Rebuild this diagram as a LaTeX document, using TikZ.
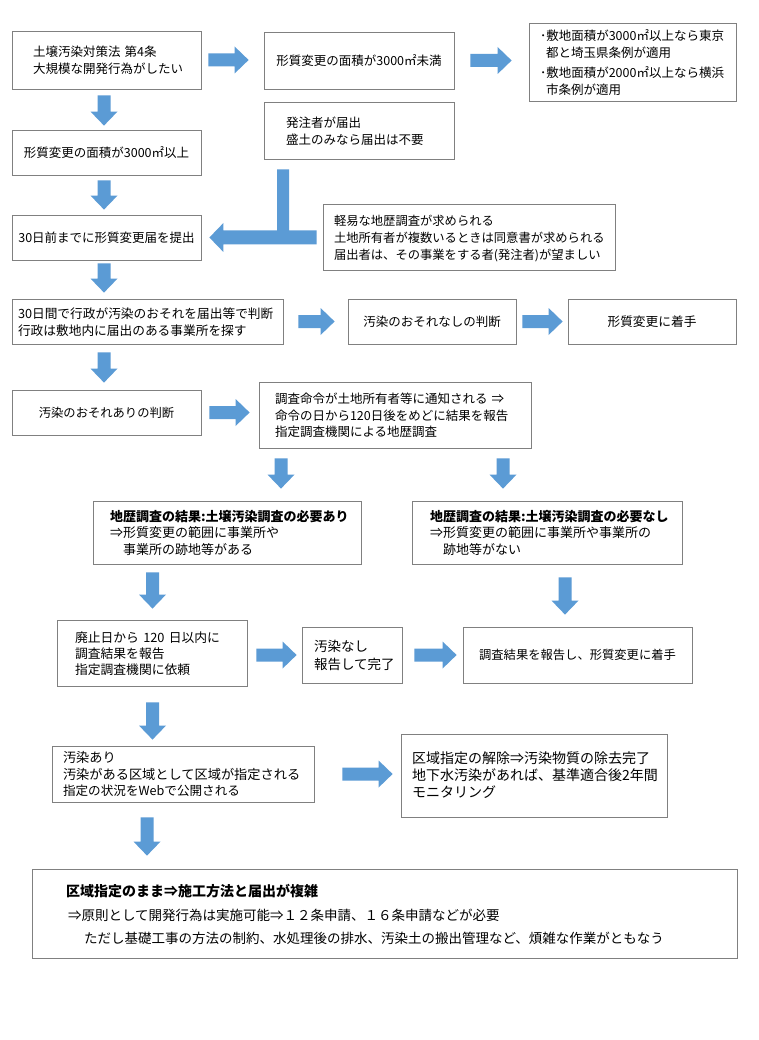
\documentclass[tikz,border=0pt]{standalone}
\usepackage{fontspec}
\setmainfont{Noto Sans CJK JP}
\usetikzlibrary{calc}
\definecolor{arrowblue}{RGB}{91,155,213}
\definecolor{boxgray}{RGB}{128,128,128}
\newcommand\fsz[2]{\fontsize{#1pt}{#2pt}\selectfont}
% left-aligned block of lines, set 2pt lower than the geometric centre
\newcommand\tb[1]{\raisebox{0pt}[\dimexpr\height+4pt\relax][\depth]{\begin{tabular}{@{}l@{}}#1\end{tabular}}}
\newcommand\arShaft{6.5pt}
\newcommand\arHead{13.5pt}
\newcommand\arLen{14pt}
% right-pointing block arrow: #1 start (its y is used), #2 tip (its x is used)
\newcommand\rarr[2]{\fill[blk] let \p1=(#1), \p2=(#2) in
  (\x1,\y1+\arShaft) -- (\x2-\arLen,\y1+\arShaft) -- (\x2-\arLen,\y1+\arHead) -- (\x2,\y1)
  -- (\x2-\arLen,\y1-\arHead) -- (\x2-\arLen,\y1-\arShaft) -- (\x1,\y1-\arShaft) -- cycle;}
% down-pointing block arrow: #1 start (its x is used), #2 tip (its y is used)
\newcommand\darr[2]{\fill[blk] let \p1=(#1), \p2=(#2) in
  (\x1-\arShaft,\y1) -- (\x1+\arShaft,\y1) -- (\x1+\arShaft,\y2+\arLen) -- (\x1+\arHead,\y2+\arLen)
  -- (\x1,\y2) -- (\x1-\arHead,\y2+\arLen) -- (\x1-\arShaft,\y2+\arLen) -- cycle;}
\tikzset{
  box/.style={draw=boxgray, line width=0.8pt, fill=white, inner sep=0pt, align=left},
  cbox/.style={box, align=center},
  blk/.style={fill=arrowblue, draw=none}
}
\begin{document}
\begin{tikzpicture}[x=1pt,y=-1pt]
\fill[white] (0,0) rectangle (758,1040);
\useasboundingbox (0,0) rectangle (758,1040);

% ---------- row 1 ----------
\node[box, text width=189pt, minimum height=58pt, font=\fsz{12.5}{17}] (A) at (106.5,60)
  {\noindent\hspace*{21pt}\tb{土壌汚染対策法 第4条\\大規模な開発行為がしたい}};
\node[cbox, minimum width=190pt, minimum height=57pt, font=\fsz{12.5}{17}] (B) at (359,60.5)
  {形質変更の面積が3000㎡未満};
\node[box, text width=207pt, minimum height=78pt, font=\fsz{12.5}{17}] (C) at (632.5,62)
  {\noindent\hspace*{11pt}\tb{･敷地面積が3000㎡以上なら東京\\\hspace*{6pt}都と埼玉県条例が適用\\[3pt]･敷地面積が2000㎡以上なら横浜\\\hspace*{6pt}市条例が適用}};
\node[box, text width=190pt, minimum height=57pt, font=\fsz{12.5}{16.5}] (D) at (359,130.5)
  {\noindent\hspace*{22pt}\tb{発注者が届出\\盛土のみなら届出は不要}};

\node[cbox, minimum width=189pt, minimum height=45pt, font=\fsz{12.5}{17}] (E) at (106.5,152.5)
  {形質変更の面積が3000㎡以上};
\node[cbox, minimum width=189pt, minimum height=45pt, font=\fsz{12.5}{17}] (F) at (106.5,237.5)
  {30日前までに形質変更届を提出};
\node[box, text width=292pt, minimum height=66pt, font=\fsz{12.3}{17}] (G) at (469,237)
  {\noindent\hspace*{11pt}\tb{軽易な地歴調査が求められる\\土地所有者が複数いるときは同意書が求められる\\届出者は、その事業をする者(発注者)が望ましい}};

% ---------- row H ----------
\node[box, text width=271pt, minimum height=45pt, font=\fsz{12.7}{17}] (H) at (147.5,321.5)
  {\noindent\hspace*{6pt}\tb{30日間で行政が汚染のおそれを届出等で判断\\行政は敷地内に届出のある事業所を探す}};
\node[cbox, minimum width=168pt, minimum height=45pt, font=\fsz{12.5}{17}] (I) at (432,321.5)
  {汚染のおそれなしの判断};
\node[cbox, minimum width=168pt, minimum height=45pt, font=\fsz{12.7}{17}] (J) at (652,321.5)
  {形質変更に着手};

% ---------- row K ----------
\node[cbox, minimum width=189pt, minimum height=45pt, font=\fsz{12.3}{17}] (K) at (106.5,412.5)
  {汚染のおそれありの判断};
\node[box, text width=272pt, minimum height=66pt, font=\fsz{12.5}{16.5}] (L) at (395,415)
  {\noindent\hspace*{16pt}\tb{調査命令が土地所有者等に通知される ⇒\\命令の日から120日後をめどに結果を報告\\指定調査機関による地歴調査}};

% ---------- row M/N ----------
\node[box, text width=268pt, minimum height=63pt, font=\fsz{13}{16.5}] (M) at (227,532.5)
  {\noindent\hspace*{17pt}\tb{{\bfseries 地歴調査の結果:土壌汚染調査の必要あり}\\⇒形質変更の範囲に事業所や\\\hspace*{13pt}事業所の跡地等がある}};
\node[box, text width=270pt, minimum height=63pt, font=\fsz{13}{16.5}] (N) at (547,532.5)
  {\noindent\hspace*{18pt}\tb{{\bfseries 地歴調査の結果:土壌汚染調査の必要なし}\\⇒形質変更の範囲に事業所や事業所の\\\hspace*{13pt}跡地等がない}};

% ---------- row O/P/Q ----------
\node[box, text width=190pt, minimum height=66pt, font=\fsz{12.8}{16}] (O) at (152,653)
  {\noindent\hspace*{18pt}\tb{廃止日から 120 日以内に\\調査結果を報告\\指定調査機関に依頼}};
\node[box, text width=100pt, minimum height=56pt, font=\fsz{13.5}{18}] (P) at (352,655)
  {\noindent\hspace*{12pt}\tb{汚染なし\\報告して完了}};
\node[cbox, minimum width=229pt, minimum height=56pt, font=\fsz{12.3}{17}] (Q) at (577.5,655)
  {調査結果を報告し、形質変更に着手};

% ---------- row R/S ----------
\node[box, text width=262pt, minimum height=56pt, font=\fsz{13.2}{16.5}] (R) at (183,774)
  {\noindent\hspace*{11pt}\tb{汚染あり\\汚染がある区域として区域が指定される\\{\fsz{12.6}{16.5}指定の状況をWebで公開される}}};
\node[box, text width=266pt, minimum height=83pt, font=\fsz{14}{17}] (S) at (534,775.5)
  {\noindent\hspace*{11pt}\tb{区域指定の解除⇒汚染物質の除去完了\\地下水汚染があれば、基準適合後2年間\\モニタリング}};

% ---------- bottom ----------
\node[box, text width=705pt, minimum height=89pt, font=\fsz{13.5}{23.5}] (T) at (384.5,913.5)
  {\noindent\hspace*{34pt}\tb{{\fsz{14}{23.5}\bfseries 区域指定のまま⇒施工方法と届出が複雑}\\\hspace*{2pt}⇒原則として開発行為は実施可能⇒１２条申請、１６条申請などが必要\\\hspace*{18pt}ただし基礎工事の方法の制約、水処理後の排水、汚染土の搬出管理など、煩雑な作業がともなう}};

% ---------- block arrows ----------
\rarr{$(A.east)+(7pt,0)$}{$(B.west)+(-15pt,0)$}
\rarr{$(B.east)+(16pt,0)$}{$(C.west)+(-17pt,0)$}
\darr{$(A.south)+(-2.5pt,-6pt)$}{$(E.north)+(0,4pt)$}
\darr{$(E.south)+(-2.5pt,-5pt)$}{$(F.north)+(0,5pt)$}
% L-shaped arrow from D to F
\fill[blk] let \p1=($(D.south)+(-76pt,-10pt)$), \p2=($(F.east)+(8pt,0)$), \p3=($(G.west)+(-6pt,0)$) in
  (\x1-6pt,\y1) -- (\x1+6pt,\y1) -- (\x1+6pt,\y2+7pt) -- (\x3,\y2+7pt) -- (\x3,\y2-7pt)
  -- (\x2+14pt,\y2-7pt) -- (\x2+14pt,\y2-14.5pt) -- (\x2,\y2) -- (\x2+14pt,\y2+14.5pt)
  -- (\x2+14pt,\y2+7pt) -- (\x1-6pt,\y2+7pt) -- cycle;
\darr{$(F.south)+(-2.5pt,-3pt)$}{$(H.north)+(0,6pt)$}
\rarr{$(H.east)+(15pt,0)$}{$(I.west)+(-13pt,0)$}
\rarr{$(I.east)+(6pt,0)$}{$(J.west)+(-5pt,0)$}
\darr{$(H.south -| K.north)+(-2.5pt,-8pt)$}{$(K.north)+(0,7pt)$}
\rarr{$(K.east)+(8pt,0)$}{$(L.west)+(-9pt,0)$}
\darr{$(L.south -| M.north)+(54pt,-10pt)$}{$(M.north)+(0,12pt)$}
\darr{$(L.south -| N.north)+(-44pt,-10pt)$}{$(N.north)+(0,12pt)$}
\darr{$(M.south -| O.north)+(0.5pt,-8pt)$}{$(O.north)+(0,11pt)$}
\darr{$(N.south)+(18pt,-13pt)$}{$(Q.north)+(0,12pt)$}
\rarr{$(O.east |- P.west)+(9pt,0)$}{$(P.west)+(-5pt,0)$}
\rarr{$(P.east)+(12pt,0)$}{$(Q.west)+(-6pt,0)$}
\darr{$(O.south)+(0.5pt,-16pt)$}{$(R.north)+(0,6pt)$}
\rarr{$(R.east)+(28pt,0)$}{$(S.west)+(-8pt,0)$}
\darr{$(R.south)+(-36pt,-15pt)$}{$(T.north)+(0,13pt)$}
\end{tikzpicture}
\end{document}
